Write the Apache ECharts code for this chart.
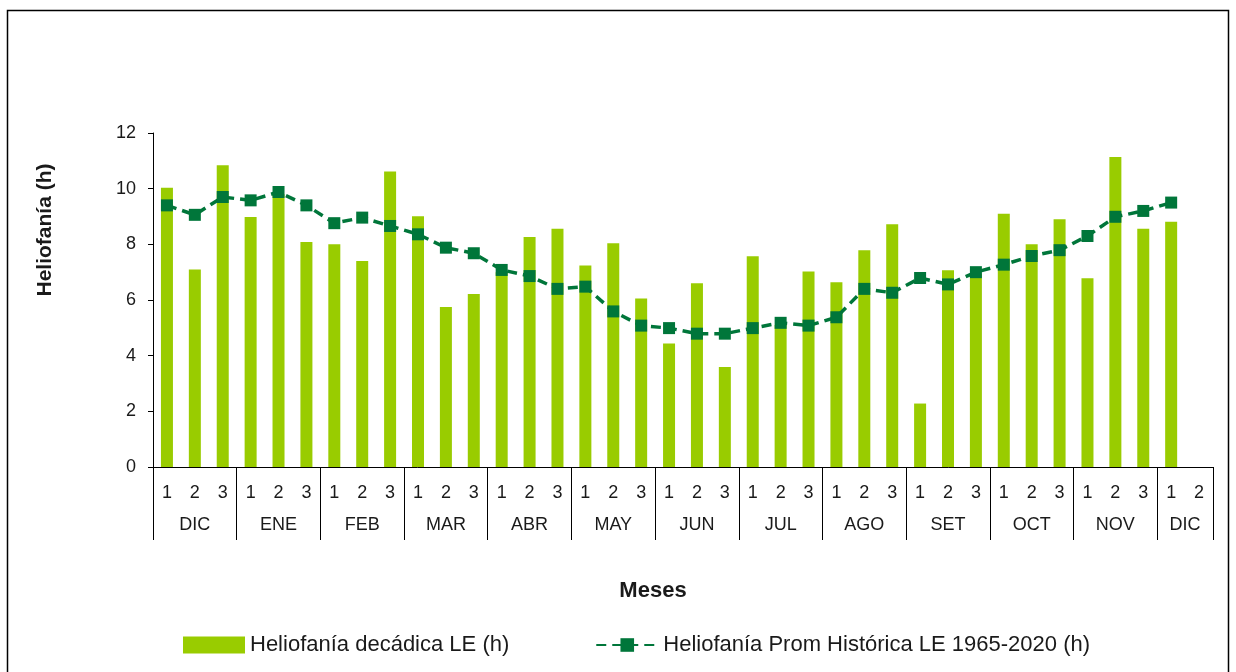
<!DOCTYPE html>
<html>
<head>
<meta charset="utf-8">
<script src="https://cdn.jsdelivr.net/npm/echarts@6/dist/echarts.min.js"></script>
<style>
  html, body { margin: 0; padding: 0; background: #fff; }
  #chart { width: 1236px; height: 672px; }
</style>
</head>
<body>
<div id="chart"></div>
<script>
// meses y cantidad de decadas mostradas en cada uno
var meses = ['DIC', 'ENE', 'FEB', 'MAR', 'ABR', 'MAY', 'JUN', 'JUL', 'AGO', 'SET', 'OCT', 'NOV', 'DIC'];
var decadasPorMes = [3, 3, 3, 3, 3, 3, 3, 3, 3, 3, 3, 3, 2];

// heliofania decadica LE (h)
var helioDecadica = [
    10.03, 7.10, 10.84,
    8.98, 9.80, 8.08,
    8.00, 7.40, 10.62,
    9.01, 5.75, 6.22,
    7.00, 8.26, 8.56,
    7.24, 8.04, 6.05,
    4.44, 6.60, 3.59,
    7.57, 5.10, 7.02,
    6.64, 7.79, 8.72,
    2.28, 7.07, 6.95,
    9.10, 8.00, 8.90,
    6.78, 11.14, 8.56,
    8.81, null
];

// heliofania promedio historica LE 1965-2020 (h)
var helioHistorica = [
    9.40, 9.06, 9.70,
    9.58, 9.88, 9.40,
    8.76, 8.96, 8.66,
    8.36, 7.88, 7.68,
    7.08, 6.86, 6.40,
    6.48, 5.59, 5.08,
    4.99, 4.79, 4.79,
    4.99, 5.18, 5.08,
    5.38, 6.40, 6.26,
    6.79, 6.56, 7.00,
    7.27, 7.58, 7.79,
    8.30, 8.99, 9.20,
    9.50, null
];

// etiquetas de decada y limites / centros de cada mes
var decadas = [];
var limitesMes = [0];
var centrosMes = [];
decadasPorMes.forEach(function (n) {
    for (var i = 1; i <= n; i++) decadas.push(String(i));
    var ini = limitesMes[limitesMes.length - 1];
    centrosMes.push(ini + n / 2);
    limitesMes.push(ini + n);
});

var fuente = 'Liberation Sans, Arial, sans-serif';
var colorTexto = '#1a1a1a';

var option = {
    backgroundColor: '#ffffff',
    animation: false,
    grid: { left: 153, right: 23, top: 133, bottom: 205 },
    legend: {
        left: 178,
        top: 629,
        itemWidth: 62,
        itemHeight: 17,
        itemGap: 86,
        textStyle: { fontFamily: fuente, fontSize: 22, color: colorTexto },
        data: [
            { name: 'Heliofanía decádica LE (h)', icon: 'rect' },
            { name: 'Heliofanía Prom Histórica LE 1965-2020 (h)' }
        ]
    },
    xAxis: [
        {
            type: 'category',
            data: decadas,
            boundaryGap: true,
            axisLine: { lineStyle: { color: '#000', width: 1 } },
            axisTick: { show: false },
            axisLabel: { interval: 0, margin: 17, fontFamily: fuente, fontSize: 18, color: colorTexto }
        },
        {
            type: 'value',
            min: 0,
            max: limitesMes[limitesMes.length - 1],
            position: 'bottom',
            axisLine: { show: false },
            splitLine: { show: false },
            axisTick: {
                show: true,
                length: 73,
                customValues: limitesMes,
                lineStyle: { color: '#000', width: 1 }
            },
            axisLabel: {
                margin: 49,
                customValues: centrosMes,
                fontFamily: fuente,
                fontSize: 18,
                color: colorTexto,
                formatter: function (v) {
                    var i = centrosMes.indexOf(v);
                    return i >= 0 ? meses[i] : '';
                }
            }
        }
    ],
    yAxis: {
        type: 'value',
        min: 0,
        max: 12,
        interval: 2,
        axisLine: { show: true, lineStyle: { color: '#000', width: 1 } },
        axisTick: { show: true, length: 5, lineStyle: { color: '#000' } },
        splitLine: { show: false },
        axisLabel: { margin: 17, fontFamily: fuente, fontSize: 18, color: colorTexto }
    },
    graphic: [
        {
            type: 'rect',
            silent: true,
            shape: { x: 7.5, y: 10.5, width: 1221, height: 700 },
            style: { fill: 'none', stroke: '#000', lineWidth: 1.5 }
        },
        {
            type: 'text',
            x: 45,
            y: 230,
            rotation: Math.PI / 2,
            style: {
                text: 'Heliofanía (h)',
                font: 'bold 21px ' + fuente,
                fill: colorTexto,
                align: 'center',
                verticalAlign: 'middle'
            }
        },
        {
            type: 'text',
            x: 653,
            y: 591,
            style: {
                text: 'Meses',
                font: 'bold 22px ' + fuente,
                fill: colorTexto,
                align: 'center',
                verticalAlign: 'middle'
            }
        }
    ],
    series: [
        {
            name: 'Heliofanía decádica LE (h)',
            type: 'bar',
            xAxisIndex: 0,
            barWidth: 12,
            itemStyle: { color: '#99CC00' },
            data: helioDecadica
        },
        {
            name: 'Heliofanía Prom Histórica LE 1965-2020 (h)',
            type: 'line',
            xAxisIndex: 0,
            symbol: 'rect',
            symbolSize: 12,
            connectNulls: false,
            itemStyle: { color: '#00763A' },
            lineStyle: { color: '#00763A', width: 3.5, type: [10, 6] },
            data: helioHistorica
        }
    ]
};

var chart = echarts.init(document.getElementById('chart'));
chart.setOption(option);
</script>
</body>
</html>
